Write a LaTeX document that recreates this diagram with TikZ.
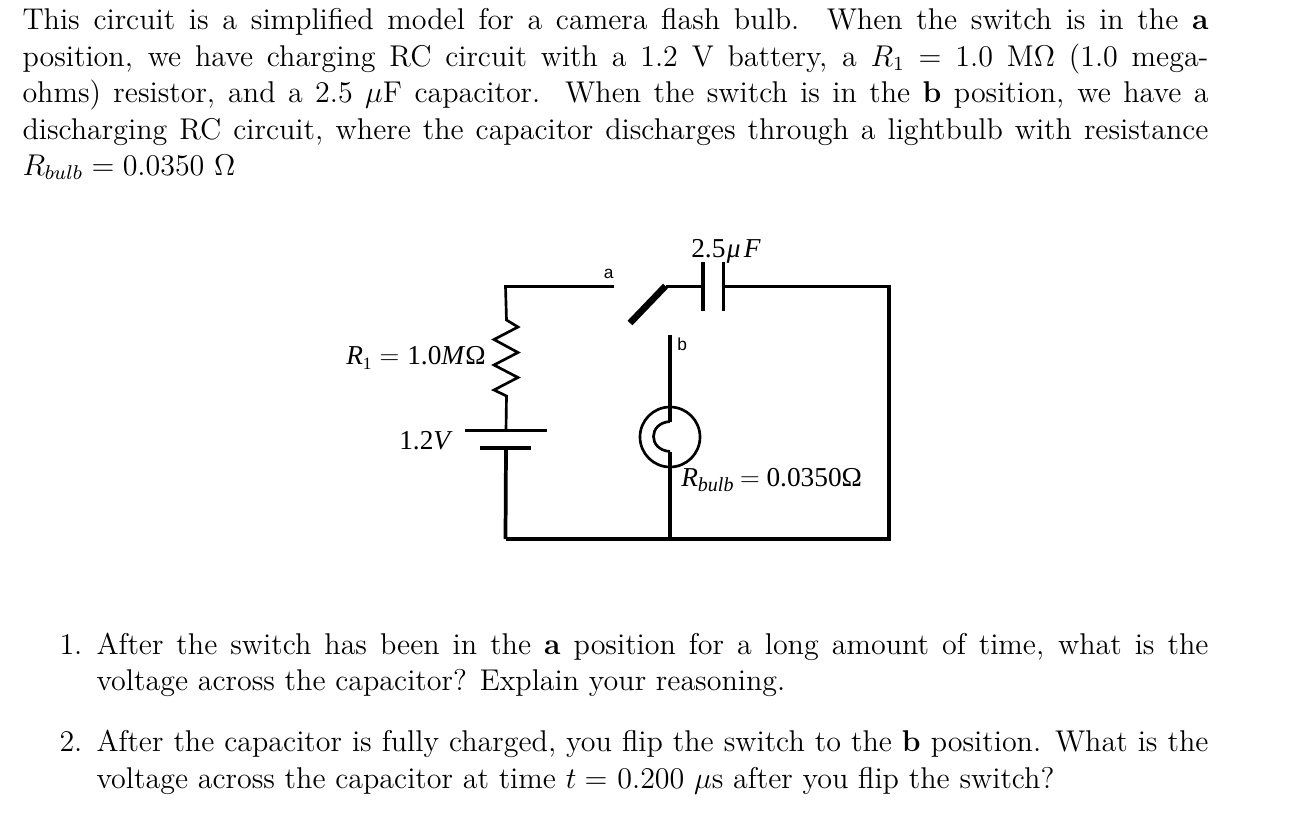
\RequirePackage{fix-cm}
\documentclass[tikz,border=0pt]{standalone}
\usepackage{fontspec}
\newfontfamily\figserif{Liberation Serif}
\newfontfamily\figsans{Liberation Sans}
\newcommand{\fullA}[1]{\hbox to 473.9pt{#1}}
\newcommand{\fullB}[1]{\hbox to 444.3pt{#1}}
\tikzset{
  body/.style={anchor=base west,inner sep=0pt,scale=1.877,font=\fontsize{12}{14.5}\selectfont},
  figlabel/.style={anchor=base west,inner sep=0pt,font=\figserif\fontsize{20.5}{24}\selectfont},
  pole/.style={anchor=base west,inner sep=0pt,font=\figsans\fontsize{13}{15}\selectfont},
  wire/.style={line width=2.0pt,black},
  stem/.style={line width=2.3pt,black},
  thickwire/.style={line width=2.8pt,black},
  blade/.style={line width=5pt,black}
}
\begin{document}
\begin{tikzpicture}[x=0.75pt,y=-0.75pt]
\path[use as bounding box,fill=white] (0,0) rectangle (1290,836);
% paragraph
\node[body] (p1) at (22,29) {\fullA{This circuit is a simplified model for a camera flash bulb.\ \ When the switch is in the \textbf{a}}};
\node[body] (p2) at (22,66) {\fullA{position, we have charging RC circuit with a 1.2 V battery, a $R_1$ = 1.0 M$\Omega$ (1.0 mega-}};
\node[body] (p3) at (22,102) {\fullA{ohms) resistor, and a 2.5 $\mu$F capacitor.\ \ When the switch is in the \textbf{b} position, we have a}};
\node[body] (p4) at (22,139) {\fullA{discharging RC circuit, where the capacitor discharges through a lightbulb with resistance}};
\node[body] (p5) at (22,175) {$R_{bulb} = 0.0350$ $\Omega$};
% questions
\node[body] (n1) at (59,654) {1.};
\node[body] (q1a) at (96,654) {\fullB{After the switch has been in the \textbf{a} position for a long amount of time, what is the}};
\node[body] (q1b) at (96,690) {voltage across the capacitor? Explain your reasoning.};
\node[body] (n2) at (59,751) {2.};
\node[body] (q2a) at (96,751) {\fullB{After the capacitor is fully charged, you flip the switch to the \textbf{b} position. What is the}};
\node[body] (q2b) at (96,788) {voltage across the capacitor at time $t =$ 0.200 $\mu$s after you flip the switch?};
% circuit points
\coordinate (tl) at (505.5,286.5);
\coordinate (ta) at (614,286.5);
\coordinate (rt) at (506.5,320);
\coordinate (rb) at (506.5,396);
\coordinate (bp) at (506,430.5);
\coordinate (bn) at (506,448);
\coordinate (bl) at (505.5,539);
\coordinate (br) at (889,539);
\coordinate (tr) at (889,286.5);
\coordinate (cl) at (703,286.5);
\coordinate (cr) at (723.5,286.5);
\coordinate (piv) at (666,286.5);
\coordinate (tip) at (630,323);
\coordinate (tb) at (670,335);
\coordinate (fa) at (670,421.5);
\coordinate (fb) at (670,451.5);
\coordinate (bot) at (670,539);
% top-left and resistor
\draw[thickwire,line join=miter] (ta) -- (tl) -- ++(0,1);
\draw[wire] (tl) -- (rt) -- (518,327) -- (494,339.5) -- (518,352.5) -- (494,365) -- (518,377.5) -- (494,390) -- (rb) -- (bp);
% battery
\draw[thickwire] (465,430.5) -- (547,430.5);
\draw[thickwire] (480,448) -- (531,448);
\draw[thickwire] (bn) -- (bl);
% outer loop
\draw[thickwire,line join=miter] (bl) -- (br) -- (tr) -- (cr);
% capacitor
\draw[stem] (703,262) -- (703,311);
\draw[stem] (723.5,262) -- (723.5,311);
\draw[wire] (piv) -- (cl);
% switch
\draw[blade] (tip) -- (665.5,286);
% bulb branch
\draw[stem] (tb) -- (fa);
\draw[stem] (fb) -- (bot);
\draw[wire] (670,437) circle [radius=30];
\draw[wire] (fa) .. controls (648,423) and (648,450) .. (fb);
% labels
\node[pole] (la) at (603.5,278) {a};
\node[pole] (lb) at (677,350) {b};
\node[figlabel] (lc) at (691,257) {2.5\hspace{1pt}\textit{μ}\hspace{2.5pt}\textit{F}};
\node[figlabel] (lr) at (346,364) {\textit{R}\raisebox{-4pt}{\fontsize{13}{15}\selectfont 1}\hspace{6pt}$=$\hspace{6pt}1.0\textit{M}Ω};
\node[figlabel] (lv) at (399,449) {1.2\textit{V}};
\node[figlabel] (lbulb) at (681,486) {\textit{R}\raisebox{-4pt}{\fontsize{15}{15}\selectfont\textit{bulb}}\hspace{5pt}$=$\hspace{5pt}0.0350Ω};
\end{tikzpicture}
\end{document}
